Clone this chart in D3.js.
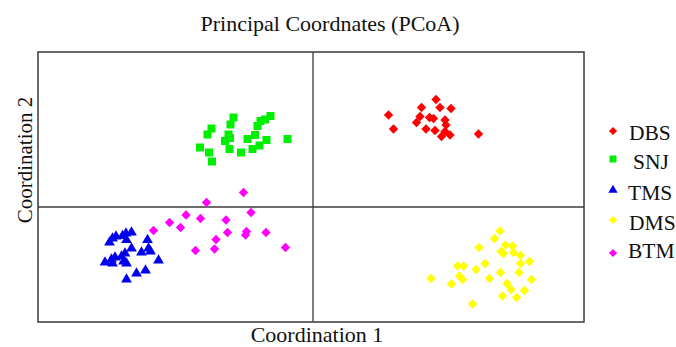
<!DOCTYPE html>
<html>
<head>
<meta charset="utf-8">
<script src="https://cdn.jsdelivr.net/npm/d3@7"></script>
<style>
  html, body { margin: 0; padding: 0; background: #fff; }
  svg { display: block; font-family: "Liberation Serif", "Times New Roman", serif; }
</style>
</head>
<body>
<svg id="chart" width="676" height="347"></svg>
<script>
// PCoA scores per group: [Coordination 1, Coordination 2]
const groups = ["DBS", "SNJ", "TMS", "DMS", "BTM"];
const colors = ["#ff0000", "#00ee00", "#0000ee", "#ffff00", "#ff00ff"];
const shapes = ["diamond", "square", "triangle", "diamond", "diamond"];

const DBS = [
  [0.151,0.184],[0.161,0.156],[0.246,0.215],[0.254,0.199],[0.276,0.197],[0.217,0.199],
  [0.214,0.181],[0.207,0.169],[0.233,0.179],[0.241,0.177],[0.264,0.174],[0.266,0.164],
  [0.226,0.156],[0.244,0.153],[0.257,0.141],[0.274,0.144],[0.264,0.151],[0.331,0.146]
];
const SNJ = [
  [-0.159,0.179],[-0.165,0.165],[-0.203,0.157],[-0.211,0.145],[-0.085,0.182],[-0.096,0.175],
  [-0.105,0.172],[-0.111,0.162],[-0.169,0.145],[-0.176,0.132],[-0.167,0.116],[-0.226,0.119],
  [-0.208,0.109],[-0.202,0.091],[-0.144,0.109],[-0.131,0.136],[-0.116,0.144],[-0.093,0.134],
  [-0.107,0.123],[-0.121,0.116],[-0.051,0.136],[-0.166,0.138]
];
const TMS = [
  [-0.363,-0.051],[-0.374,-0.053],[-0.381,-0.058],[-0.394,-0.059],[-0.401,-0.063],[-0.407,-0.071],
  [-0.373,-0.066],[-0.331,-0.066],[-0.363,-0.083],[-0.329,-0.083],[-0.343,-0.091],[-0.325,-0.089],
  [-0.376,-0.093],[-0.383,-0.099],[-0.396,-0.101],[-0.403,-0.105],[-0.416,-0.111],[-0.401,-0.113],
  [-0.379,-0.109],[-0.373,-0.113],[-0.309,-0.107],[-0.335,-0.127],[-0.353,-0.133],[-0.373,-0.145]
];
const DMS = [
  [0.374,-0.048],[0.363,-0.063],[0.332,-0.081],[0.385,-0.076],[0.399,-0.078],[0.376,-0.089],
  [0.381,-0.093],[0.401,-0.091],[0.415,-0.097],[0.433,-0.109],[0.415,-0.113],[0.344,-0.113],
  [0.289,-0.118],[0.301,-0.118],[0.326,-0.125],[0.375,-0.131],[0.412,-0.131],[0.236,-0.143],
  [0.293,-0.138],[0.299,-0.145],[0.277,-0.154],[0.353,-0.143],[0.437,-0.145],[0.388,-0.153],
  [0.396,-0.165],[0.423,-0.167],[0.379,-0.178],[0.407,-0.181],[0.319,-0.194]
];
const BTM = [
  [-0.139,0.029],[-0.213,0.009],[-0.124,-0.011],[-0.254,-0.016],[-0.225,-0.023],[-0.174,-0.026],
  [-0.287,-0.031],[-0.265,-0.041],[-0.319,-0.047],[-0.171,-0.051],[-0.133,-0.049],[-0.135,-0.056],
  [-0.094,-0.051],[-0.194,-0.065],[-0.197,-0.084],[-0.235,-0.087],[-0.055,-0.081]
];
const seriesData = [DBS, SNJ, TMS, DMS, BTM];

const title = "Principal Coordnates (PCoA)";
const xTitle = "Coordination 1";
const yTitle = "Coordination 2";

const svg = d3.select("#chart");
const margin = { left: 38, top: 52, right: 584, bottom: 322 };

const x = d3.scaleLinear().domain([-0.55, 0.542]).range([margin.left, margin.right]);
const y = d3.scaleLinear().domain([-0.23, 0.31]).range([margin.bottom, margin.top]);

// plot frame
svg.append("rect")
  .attr("x", margin.left).attr("y", margin.top)
  .attr("width", margin.right - margin.left).attr("height", margin.bottom - margin.top)
  .attr("fill", "none").attr("stroke", "#3a3a3a").attr("stroke-width", 1.5);

// zero reference lines
svg.append("line")
  .attr("x1", x(0)).attr("x2", x(0)).attr("y1", margin.top).attr("y2", margin.bottom)
  .attr("stroke", "#3a3a3a").attr("stroke-width", 1.3);
svg.append("line")
  .attr("x1", margin.left).attr("x2", margin.right).attr("y1", y(0)).attr("y2", y(0))
  .attr("stroke", "#3a3a3a").attr("stroke-width", 1.3);

function symbolPath(shape, scale) {
  if (shape === "square") return d3.symbol(d3.symbolSquare, 64 * scale)();
  if (shape === "triangle") return d3.symbol(d3.symbolTriangle, 50 * scale)();
  return d3.symbol(d3.symbolSquare, 44 * scale)();
}
function symbolRotate(shape) { return shape === "diamond" ? 45 : 0; }

// points
seriesData.forEach((pts, i) => {
  svg.append("g").selectAll("path")
    .data(pts)
    .join("path")
    .attr("d", symbolPath(shapes[i], 1))
    .attr("transform", d => `translate(${x(d[0])},${y(d[1])}) rotate(${symbolRotate(shapes[i])})`)
    .attr("fill", colors[i]);
});

// titles
svg.append("text")
  .attr("x", 330).attr("y", 31)
  .attr("text-anchor", "middle").attr("font-size", 22).attr("fill", "#111")
  .text(title);
svg.append("text")
  .attr("x", 317).attr("y", 342)
  .attr("text-anchor", "middle").attr("font-size", 22).attr("fill", "#111")
  .text(xTitle);
svg.append("text")
  .attr("transform", "translate(32,160) rotate(-90)")
  .attr("text-anchor", "middle").attr("font-size", 21).attr("fill", "#111")
  .text(yTitle);

// legend
const markerY = [131, 159, 190, 220, 253];
const labelY = [140, 169, 200, 230, 258];
const labelX = [629, 633, 628, 629, 628];
const legend = svg.append("g");
groups.forEach((g, i) => {
  legend.append("path")
    .attr("d", symbolPath(shapes[i], 0.75))
    .attr("transform", `translate(613,${markerY[i]}) rotate(${symbolRotate(shapes[i])})`)
    .attr("fill", colors[i]);
  legend.append("text")
    .attr("x", labelX[i]).attr("y", labelY[i])
    .attr("font-size", 21.5).attr("fill", "#111")
    .text(g);
});
</script>
</body>
</html>
